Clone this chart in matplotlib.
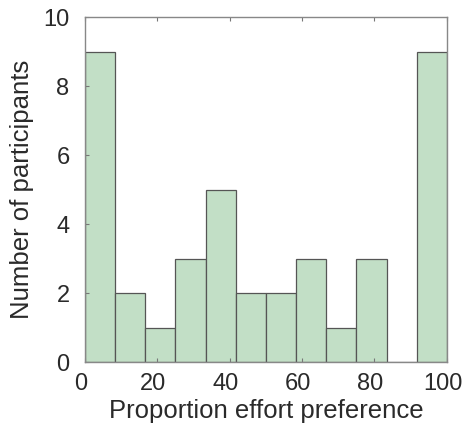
import numpy as np
import matplotlib
matplotlib.use('Agg')
import matplotlib.pyplot as plt
from matplotlib.transforms import ScaledTranslation

# histogram of proportion effort preference (12 bins over 0-100)
bin_edges = np.linspace(0, 100, 13)
counts = [9, 2, 1, 3, 5, 2, 2, 3, 1, 3, 0, 9]

plt.rcParams['font.family'] = ['Liberation Sans', 'DejaVu Sans']

fig = plt.figure(figsize=(4.66, 4.30), dpi=100)
ax = fig.add_axes([0.182, 0.158, 0.777, 0.802])

ax.bar(bin_edges[:-1], counts, width=np.diff(bin_edges), align='edge',
       color='#c2dfc6', edgecolor='#555555', linewidth=0.9)

ax.set_xlim(0, 100)
ax.set_ylim(0, 10)
ax.set_xticks([0, 20, 40, 60, 80, 100])
ax.set_yticks([0, 2, 4, 6, 8, 10])
ax.tick_params(direction='in', top=True, right=False, length=3, width=0.8,
               color='#777777', labelsize=17, labelcolor='#2a2a2a')
ax.tick_params(axis='x', pad=8)
ax.tick_params(axis='y', pad=11)
# x tick labels sit slightly left of their ticks in the original
shift = ScaledTranslation(-4 / 100, 0, fig.dpi_scale_trans)
for lbl in ax.get_xticklabels():
    lbl.set_transform(lbl.get_transform() + shift)
for s in ax.spines.values():
    s.set_color('#888888')
    s.set_linewidth(1.0)

ax.set_xlabel('Proportion effort preference', fontsize=18.5, labelpad=3,
              color='#2a2a2a')
ax.set_ylabel('Number of participants', fontsize=18.5, labelpad=7,
              color='#2a2a2a')

fig.savefig('out.png', dpi=100)
